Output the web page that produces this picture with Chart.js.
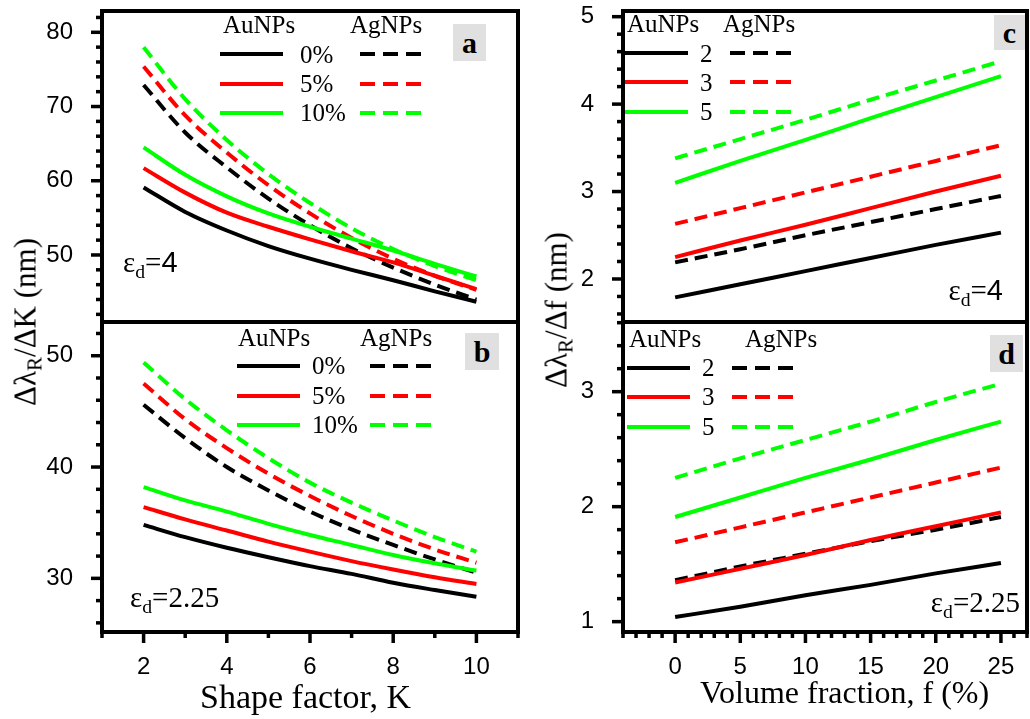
<!DOCTYPE html>
<html>
<head>
<meta charset="utf-8">
<script src="https://cdn.jsdelivr.net/npm/chart.js@4.4.0/dist/chart.umd.min.js"></script>
<style>
  body { margin: 0; background: #fff; }
  #wrap { position: relative; width: 1030px; height: 719px; overflow: hidden; background: #fff; }
  #wrap canvas { position: absolute; left: 0; top: 0; }
  .t { position: absolute; white-space: nowrap; line-height: 1; color: #000;
       font-family: 'Liberation Serif', 'Times New Roman', serif; }
  .t sub { font-size: 0.68em; vertical-align: baseline; position: relative; top: 0.3em; line-height: 0; }
  .sans { font-family: 'Liberation Sans', Arial, sans-serif; }
  .box { position: absolute; background: #e0e0e0; color: #000; font: bold 30px 'Liberation Serif', serif;
         display: flex; align-items: center; justify-content: center; line-height: 1; }
</style>
</head>
<body>
<div id="wrap">
  <canvas id="pa" width="1030" height="719"></canvas>
  <canvas id="pb" width="1030" height="719"></canvas>
  <canvas id="pc" width="1030" height="719"></canvas>
  <canvas id="pd" width="1030" height="719"></canvas>
</div>
<script>
// ── data ─────────────────────────────────────────────────────────
// panels a, b : x = shape factor K
const K = [2, 3, 4, 5, 6, 7, 8, 9, 10];
// panel a (eps_d = 4)
const aAu0  = [59.1, 55.8, 53.3, 51.2, 49.5, 48.0, 46.6, 45.1, 43.7];
const aAu5  = [61.7, 58.4, 55.7, 53.8, 52.1, 50.5, 49.0, 47.2, 45.4];
const aAu10 = [64.5, 60.8, 57.9, 55.6, 53.8, 52.2, 50.6, 48.8, 47.1];
const aAg0  = [72.9, 66.5, 61.8, 57.6, 54.0, 50.9, 48.3, 46.0, 44.0];
const aAg5  = [75.4, 68.8, 63.8, 59.4, 55.6, 52.3, 49.5, 47.2, 45.3];
const aAg10 = [78.0, 71.0, 65.5, 60.9, 57.0, 53.6, 50.8, 48.5, 46.6];
// panel b (eps_d = 2.25)
const bAu0  = [34.8, 33.7, 32.75, 31.9, 31.1, 30.4, 29.6, 28.95, 28.35];
const bAu5  = [36.4, 35.3, 34.3, 33.3, 32.4, 31.55, 30.8, 30.1, 29.5];
const bAu10 = [38.2, 37.0, 36.0, 34.9, 33.9, 33.0, 32.1, 31.35, 30.7];
const bAg0  = [45.6, 42.6, 40.0, 37.9, 36.0, 34.4, 33.0, 31.7, 30.5];
const bAg5  = [47.5, 44.3, 41.7, 39.4, 37.4, 35.6, 34.0, 32.6, 31.4];
const bAg10 = [49.4, 46.1, 43.3, 40.8, 38.6, 36.8, 35.2, 33.7, 32.4];

// panels c, d : x = volume fraction f (%)
const F = [0, 5, 10, 15, 20, 25];
// panel c (eps_d = 4)
const cAu2 = [1.79, 1.94, 2.09, 2.24, 2.39, 2.53];
const cAu3 = [2.25, 2.44, 2.62, 2.81, 3.00, 3.18];
const cAu5 = [3.10, 3.35, 3.59, 3.84, 4.08, 4.32];
const cAg2 = [2.19, 2.34, 2.50, 2.65, 2.80, 2.95];
const cAg3 = [2.63, 2.81, 2.99, 3.17, 3.35, 3.53];
const cAg5 = [3.38, 3.60, 3.82, 4.05, 4.27, 4.49];
// panel d (eps_d = 2.25)
const dAu2 = [1.04, 1.13, 1.23, 1.32, 1.42, 1.51];
const dAu3 = [1.34, 1.46, 1.58, 1.71, 1.83, 1.95];
const dAu5 = [1.91, 2.08, 2.25, 2.41, 2.58, 2.74];
const dAg2 = [1.36, 1.48, 1.59, 1.70, 1.80, 1.91];
const dAg3 = [1.69, 1.82, 1.95, 2.08, 2.21, 2.34];
const dAg5 = [2.25, 2.42, 2.58, 2.74, 2.91, 3.07];

const legendLeft  = ['0%', '5%', '10%'];
const legendRight = ['2', '3', '5'];

// ── styles ───────────────────────────────────────────────────────
const C = { black: '#000000', red: '#ff0000', green: '#00ff00' };
const DASH = [13, 7];
const W = 1030, H = 719;
const Y_W = 60, X_H = 60;

function ds(xs, ys, color, dashed) {
  return {
    data: xs.map((x, i) => ({ x, y: ys[i] })),
    borderColor: color, borderWidth: 4, borderDash: dashed ? DASH : [],
    pointRadius: 0, fill: false, cubicInterpolationMode: 'monotone',
  };
}

const isMajor = (v, m) => Math.abs(v / m - Math.round(v / m)) < 1e-6;
const _cfg = new Map();

// frame, tick marks and legend samples
const deco = {
  id: 'deco',
  afterDatasetsDraw(chart) {
    const o = _cfg.get(chart.canvas.id);
    if (!o) return;
    const ctx = chart.ctx, a = chart.chartArea;
    ctx.save();
    ctx.strokeStyle = '#000';
    ctx.lineWidth = 3.5;
    ctx.setLineDash([]);
    const xs = chart.scales.x, ys = chart.scales.y;
    if (o.showX) {
      xs.ticks.forEach(t => {
        const p = xs.getPixelForValue(t.value);
        const len = isMajor(t.value, o.xMajor) ? 11 : 6;
        ctx.beginPath(); ctx.moveTo(p, a.bottom); ctx.lineTo(p, a.bottom + len); ctx.stroke();
      });
    }
    ys.ticks.forEach(t => {
      const p = ys.getPixelForValue(t.value);
      const len = isMajor(t.value, o.yMajor) ? 11 : 6;
      ctx.beginPath(); ctx.moveTo(a.left, p); ctx.lineTo(a.left - len, p); ctx.stroke();
    });
    // frame
    ctx.lineWidth = 4;
    ctx.strokeRect(a.left, a.top, a.right - a.left, a.bottom - a.top);
    // legend samples
    const lg = o.legend, cols = [C.black, C.red, C.green];
    lg.rows.forEach((y, i) => {
      ctx.strokeStyle = cols[i];
      ctx.setLineDash([]);
      ctx.beginPath(); ctx.moveTo(lg.solid[0], y); ctx.lineTo(lg.solid[1], y); ctx.stroke();
      ctx.setLineDash([15, 8]);
      ctx.beginPath(); ctx.moveTo(lg.dashed[0], y); ctx.lineTo(lg.dashed[1], y); ctx.stroke();
    });
    ctx.restore();
  },
};

function panel(id, o) {
  _cfg.set(id, o);
  const a = o.area;
  const tickFont = { family: "'Liberation Sans', Arial, sans-serif", size: 24 };
  return new Chart(document.getElementById(id), {
    type: 'line',
    data: { datasets: o.datasets },
    plugins: [deco],
    options: {
      responsive: false, animation: false, devicePixelRatio: 1,
      layout: { padding: { left: a.left - Y_W, top: a.top, right: W - a.right,
                           bottom: H - a.bottom - (o.showX ? X_H : 0) } },
      plugins: { legend: { display: false }, tooltip: { enabled: false } },
      scales: {
        x: {
          type: 'linear', display: o.showX, min: o.xMin, max: o.xMax,
          grid: { display: false }, border: { display: false },
          ticks: { stepSize: o.xStep, autoSkip: false, maxRotation: 0, includeBounds: false,
                   maxTicksLimit: 200, color: '#000', font: tickFont, padding: 13,
                   callback: v => isMajor(v, o.xMajor) ? String(Math.round(v)) : '' },
          afterFit: s => { s.height = o.showX ? X_H : 0; s.paddingLeft = 0; s.paddingRight = 0; },
        },
        y: {
          type: 'linear', min: o.yMin, max: o.yMax,
          grid: { display: false }, border: { display: false },
          ticks: { stepSize: o.yStep, autoSkip: false, includeBounds: false, maxTicksLimit: 200,
                   color: '#000', font: tickFont, padding: 21,
                   callback: v => isMajor(v, o.yMajor) ? String(Math.round(v)) : '' },
          afterFit: s => { s.width = Y_W; s.paddingTop = 0; s.paddingBottom = 0; },
        },
      },
    },
  });
}

panel('pa', {
  area: { left: 102, top: 11, right: 518, bottom: 322 }, showX: false,
  xMin: 1, xMax: 11, xStep: 1, xMajor: 2, yMin: 40.97, yMax: 82.87, yStep: 2, yMajor: 10,
  legend: { solid: [220, 283], dashed: [360, 423], rows: [54, 84, 113] },
  datasets: [ds(K, aAu0, C.black), ds(K, aAu5, C.red), ds(K, aAu10, C.green),
             ds(K, aAg0, C.black, true), ds(K, aAg5, C.red, true), ds(K, aAg10, C.green, true)],
});
panel('pb', {
  area: { left: 102, top: 322, right: 518, bottom: 632 }, showX: true,
  xMin: 1, xMax: 11, xStep: 1, xMajor: 2, yMin: 25.18, yMax: 53.03, yStep: 2, yMajor: 10,
  legend: { solid: [237, 300], dashed: [370, 433], rows: [366, 396, 425] },
  datasets: [ds(K, bAu0, C.black), ds(K, bAu5, C.red), ds(K, bAu10, C.green),
             ds(K, bAg0, C.black, true), ds(K, bAg5, C.red, true), ds(K, bAg10, C.green, true)],
});
panel('pc', {
  area: { left: 623, top: 11, right: 1027, bottom: 322 }, showX: false,
  xMin: -4, xMax: 27, xStep: 1, xMajor: 5, yMin: 1.508, yMax: 5.065, yStep: 0.2, yMajor: 1,
  legend: { solid: [625, 688], dashed: [730, 793], rows: [53, 82, 112] },
  datasets: [ds(F, cAu2, C.black), ds(F, cAu3, C.red), ds(F, cAu5, C.green),
             ds(F, cAg2, C.black, true), ds(F, cAg3, C.red, true), ds(F, cAg5, C.green, true)],
});
panel('pd', {
  area: { left: 623, top: 322, right: 1027, bottom: 632 }, showX: true,
  xMin: -4, xMax: 27, xStep: 1, xMajor: 5, yMin: 0.91, yMax: 3.606, yStep: 0.2, yMajor: 1,
  legend: { solid: [627, 690], dashed: [732, 795], rows: [368, 397, 427] },
  datasets: [ds(F, dAu2, C.black), ds(F, dAu3, C.red), ds(F, dAu5, C.green),
             ds(F, dAg2, C.black, true), ds(F, dAg3, C.red, true), ds(F, dAg5, C.green, true)],
});

// ── text ─────────────────────────────────────────────────────────
const wrap = document.getElementById('wrap');
function txt(html, x, base, size, right) {
  const d = document.createElement('div');
  d.className = 't';
  d.innerHTML = html;
  d.style.fontSize = size + 'px';
  d.style.top = (base - 0.84 * size) + 'px';
  if (right) d.style.right = (W - x) + 'px'; else d.style.left = x + 'px';
  wrap.appendChild(d);
}
function vtxt(html, cx, cy, size) {
  const d = document.createElement('div');
  d.className = 't';
  d.innerHTML = html;
  d.style.fontSize = size + 'px';
  d.style.left = cx + 'px';
  d.style.top = cy + 'px';
  d.style.transform = 'translate(-50%,-50%) rotate(-90deg)';
  wrap.appendChild(d);
}
function box(s, x1, y1, x2, y2) {
  const d = document.createElement('div');
  d.className = 'box';
  d.textContent = s;
  Object.assign(d.style, { left: x1 + 'px', top: y1 + 'px', width: (x2 - x1) + 'px', height: (y2 - y1) + 'px' });
  wrap.appendChild(d);
}

// legends
txt('AuNPs', 223, 33, 25); txt('AgNPs', 350, 33, 25);
legendLeft.forEach((s, i) => txt(s, 300, [63, 92, 121][i], 25));
txt('AuNPs', 238, 346, 25); txt('AgNPs', 360, 346, 25);
legendLeft.forEach((s, i) => txt(s, 312, [374, 404, 433][i], 25));
txt('AuNPs', 627, 32, 25); txt('AgNPs', 723, 32, 25);
legendRight.forEach((s, i) => txt(s, 700, [62, 91, 120][i], 25));
txt('AuNPs', 629, 347, 25); txt('AgNPs', 745, 347, 25);
legendRight.forEach((s, i) => txt(s, 702, [376, 405, 435][i], 25));

// panel letters
box('a', 453, 24, 486, 61);
box('b', 465, 333, 499, 370);
box('c', 994, 15, 1025, 50);
box('d', 990, 335, 1023, 372);

// dielectric constants
txt('ε<sub>d</sub>=<span class="sans">4</span>', 123, 272, 29);
txt('ε<sub>d</sub>=2.25', 130, 607, 29);
txt('ε<sub>d</sub>=<span class="sans">4</span>', 1003, 300, 29, true);
txt('ε<sub>d</sub>=2.25', 1020, 612, 29, true);

// axis titles
txt('Shape factor, K', 200, 709, 34);
txt('Volume fraction, f (%)', 700, 703, 32);
vtxt('Δλ<sub>R</sub>/ΔK (nm)', 25, 322, 31);
vtxt('Δλ<sub>R</sub>/Δf (nm)', 556, 310, 31);
</script>
</body>
</html>
